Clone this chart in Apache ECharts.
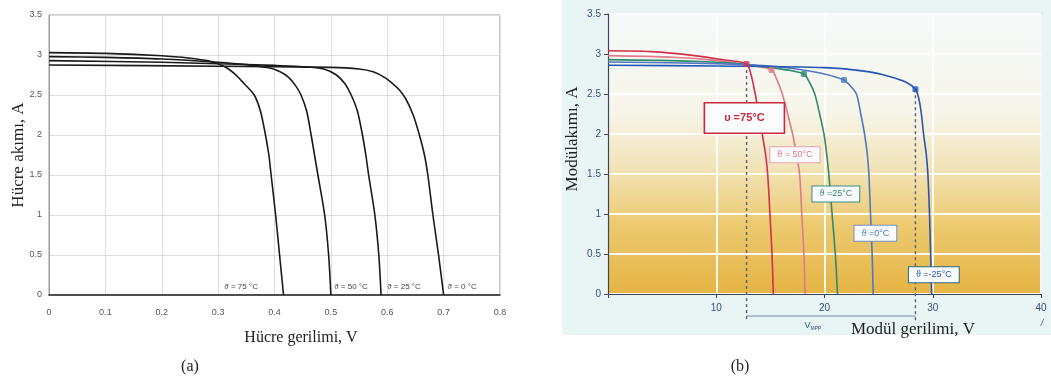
<!DOCTYPE html>
<html>
<head>
<meta charset="utf-8">
<script src="https://cdn.jsdelivr.net/npm/echarts@6/dist/echarts.min.js"></script>
<style>
  html, body { margin: 0; background: #fff; }
  #place { width: 1051px; height: 382px; }
</style>
</head>
<body>
<div id="place"></div>
<script>
// (a) cell I-V curves, voltage in V, current in A
const cellV_75 = [0, 0.1, 0.2, 0.25, 0.28, 0.3, 0.315, 0.33, 0.345, 0.364, 0.375, 0.384, 0.39, 0.394, 0.402, 0.409, 0.416];
const cellI_75 = [3.03, 3.02, 2.99, 2.96, 2.93, 2.89, 2.84, 2.76, 2.65, 2.5, 2.3, 2.0, 1.75, 1.5, 1.0, 0.5, 0];
const cellV_50 = [0, 0.1, 0.2, 0.3, 0.35, 0.39, 0.41, 0.425, 0.437, 0.447, 0.457, 0.465, 0.471, 0.477, 0.489, 0.496, 0.5];
const cellI_50 = [2.98, 2.97, 2.95, 2.91, 2.88, 2.84, 2.79, 2.72, 2.62, 2.5, 2.3, 2.0, 1.75, 1.5, 1.0, 0.5, 0];
const cellV_25 = [0, 0.2, 0.3, 0.4, 0.46, 0.49, 0.51, 0.525, 0.536, 0.547, 0.556, 0.562, 0.567, 0.578, 0.585, 0.589];
const cellI_25 = [2.93, 2.91, 2.89, 2.87, 2.85, 2.82, 2.75, 2.64, 2.5, 2.3, 2.0, 1.75, 1.5, 1.0, 0.5, 0];
const cellV_0 = [0, 0.3, 0.5, 0.55, 0.575, 0.595, 0.61, 0.622, 0.633, 0.646, 0.657, 0.666, 0.672, 0.681, 0.691, 0.7];
const cellI_0 = [2.875, 2.86, 2.845, 2.825, 2.79, 2.72, 2.64, 2.56, 2.45, 2.25, 2.0, 1.75, 1.5, 1.0, 0.5, 0];
const cellLabels = ['ϑ = 75 °C', 'ϑ = 50 °C', 'ϑ = 25 °C', 'ϑ = 0 °C'];

// (b) module I-V curves
const modV_75 = [0, 4, 8, 11, 12.8, 13.2, 13.6, 14.0, 14.25, 14.55, 14.75, 14.96, 15.15, 15.27];
const modI_75 = [3.04, 3.03, 2.98, 2.92, 2.875, 2.75, 2.5, 2.2, 2.0, 1.75, 1.5, 1.0, 0.5, 0];
const modV_50 = [0, 6, 10, 13, 15.1, 15.6, 16.1, 16.6, 17.05, 17.4, 17.7, 17.9, 18.1, 18.2];
const modI_50 = [2.98, 2.96, 2.92, 2.86, 2.8, 2.68, 2.5, 2.25, 2.0, 1.75, 1.5, 1.0, 0.5, 0];
const modV_25 = [0, 8, 12, 15, 17, 18.1, 18.6, 19.1, 19.55, 19.95, 20.2, 20.4, 20.7, 21.0, 21.2];
const modI_25 = [2.93, 2.91, 2.88, 2.83, 2.79, 2.75, 2.65, 2.5, 2.25, 2.0, 1.75, 1.5, 1.0, 0.5, 0];
const modV_0 = [0, 10, 15, 18, 20, 21.8, 22.4, 22.95, 23.35, 23.7, 23.95, 24.1, 24.25, 24.4, 24.5];
const modI_0 = [2.9, 2.88, 2.85, 2.8, 2.75, 2.675, 2.6, 2.5, 2.25, 2.0, 1.75, 1.5, 1.0, 0.5, 0];
const modV_m25 = [0, 10, 20, 24, 26, 27.5, 28.4, 28.7, 28.95, 29.15, 29.4, 29.55, 29.7, 29.8, 29.9];
const modI_m25 = [2.86, 2.85, 2.83, 2.78, 2.72, 2.65, 2.56, 2.45, 2.25, 2.0, 1.75, 1.5, 1.0, 0.5, 0];
const mppV = [12.8, 15.1, 18.1, 21.8, 28.4];
const mppI = [2.875, 2.8, 2.75, 2.675, 2.56];
const modLabels = ['υ =75°C', 'ϑ = 50°C', 'ϑ =25°C', 'ϑ =0°C', 'ϑ =-25°C'];
const modColors = ['#d42f4c', '#e07a8c', '#2f8a70', '#5078c0', '#2655b5'];

function zip(xs, ys) {
  return xs.map((x, i) => [x, ys[i]]);
}

const chart = echarts.init(document.getElementById('place'));

const cellSets = [[cellV_75, cellI_75], [cellV_50, cellI_50], [cellV_25, cellI_25], [cellV_0, cellI_0]];
const modSets = [[modV_75, modI_75], [modV_50, modI_50], [modV_25, modI_25], [modV_0, modI_0], [modV_m25, modI_m25]];

let series = [];
cellSets.forEach(s => {
  series.push({
    type: 'line', xAxisIndex: 0, yAxisIndex: 0,
    data: zip(s[0], s[1]),
    smooth: 0.3, showSymbol: false,
    lineStyle: { color: '#1a1a1a', width: 1.6 }
  });
});
modSets.forEach((s, i) => {
  series.push({
    type: 'line', xAxisIndex: 1, yAxisIndex: 1,
    data: zip(s[0], s[1]),
    smooth: 0.3, showSymbol: false,
    lineStyle: { color: modColors[i], width: 1.6 }
  });
});
series.push({
  type: 'scatter', xAxisIndex: 1, yAxisIndex: 1,
  data: zip(mppV, mppI),
  symbol: 'roundRect', symbolSize: 6, z: 5,
  itemStyle: { color: p => modColors[p.dataIndex] }
});

chart.setOption({
  animation: false,
  grid: [
    { left: 49, top: 15, width: 451, height: 280, show: true, borderColor: '#9a9a9a', borderWidth: 1, backgroundColor: '#fff' },
    {
      left: 608, top: 14, width: 433, height: 280, show: true, borderColor: '#4d6ea8', borderWidth: 1.2,
      backgroundColor: {
        type: 'linear', x: 0, y: 0, x2: 0, y2: 1,
        colorStops: [
          { offset: 0, color: '#f5fafa' },
          { offset: 0.35, color: '#f7f5ea' },
          { offset: 0.55, color: '#f2e3b8' },
          { offset: 0.75, color: '#ecca70' },
          { offset: 1, color: '#e5b444' }
        ]
      }
    }
  ],
  xAxis: [
    {
      type: 'value', gridIndex: 0, min: 0, max: 0.8, interval: 0.1,
      axisLine: { lineStyle: { color: '#222', width: 1.5 } },
      axisTick: { show: false },
      axisLabel: { color: '#555', margin: 13, fontFamily: 'Liberation Sans', fontSize: 9 },
      splitLine: { lineStyle: { color: '#dedede' } }
    },
    {
      type: 'value', gridIndex: 1, min: 0, max: 40, interval: 10,
      axisLine: { lineStyle: { color: '#3c4658', width: 1.2 } },
      axisTick: { show: true, length: 4, lineStyle: { color: '#3c4658' } },
      axisLabel: { color: '#34507e', margin: 9, fontFamily: 'Liberation Sans', fontSize: 10, formatter: v => v === 0 ? '' : v },
      splitLine: { lineStyle: { color: 'rgba(255,255,255,0.9)', width: 2 } }
    }
  ],
  yAxis: [
    {
      type: 'value', gridIndex: 0, min: 0, max: 3.5, interval: 0.5,
      axisLine: { show: true, lineStyle: { color: '#9a9a9a' } },
      axisTick: { show: false },
      axisLabel: { color: '#555', margin: 7, fontFamily: 'Liberation Sans', fontSize: 9 },
      splitLine: { lineStyle: { color: '#dedede' } }
    },
    {
      type: 'value', gridIndex: 1, min: 0, max: 3.5, interval: 0.5,
      axisLine: { show: true, lineStyle: { color: '#3c4658', width: 1.2 } },
      axisTick: { show: true, length: 4, lineStyle: { color: '#3c4658' } },
      axisLabel: { color: '#34507e', margin: 7, fontFamily: 'Liberation Sans', fontSize: 10 },
      splitLine: { lineStyle: { color: 'rgba(255,255,255,0.95)', width: 2 } }
    }
  ],
  series: series
});

function px(g, x, y) {
  return chart.convertToPixel({ gridIndex: g }, [x, y]);
}

const serif = 'Liberation Serif';
let els = [];

// light panel behind chart (b)
els.push({ type: 'rect', z: -10, shape: { x: 562, y: 0, width: 489, height: 335 }, style: { fill: '#e9f5f5' } });

// axis titles and captions
els.push({ type: 'text', x: 19, y: 155, rotation: Math.PI / 2, style: { text: 'Hücre akımı, A', font: '17px ' + serif, fill: '#222', align: 'center', verticalAlign: 'middle' } });
els.push({ type: 'text', x: 301, y: 338, style: { text: 'Hücre gerilimi, V', font: '16px ' + serif, fill: '#222', align: 'center', verticalAlign: 'middle' } });
els.push({ type: 'text', x: 190, y: 367, style: { text: '(a)', font: '16px ' + serif, fill: '#222', align: 'center', verticalAlign: 'middle' } });
els.push({ type: 'text', x: 573, y: 139, rotation: Math.PI / 2, style: { text: 'Modülakımı, A', font: '17px ' + serif, fill: '#222', align: 'center', verticalAlign: 'middle' } });
els.push({ type: 'text', x: 913, y: 330, style: { text: 'Modül gerilimi, V', font: '17px ' + serif, fill: '#222', align: 'center', verticalAlign: 'middle' } });
els.push({ type: 'text', x: 740, y: 367, style: { text: '(b)', font: '16px ' + serif, fill: '#222', align: 'center', verticalAlign: 'middle' } });

// temperature labels in (a)
const cellLabelAt = [0.311, 0.506, 0.600, 0.707];
cellLabels.forEach((t, i) => {
  const p = px(0, cellLabelAt[i], 0.1);
  els.push({ type: 'text', x: p[0], y: p[1], style: { text: t, font: '8px Liberation Sans', fill: '#444', align: 'left', verticalAlign: 'middle' } });
});

// MPP dashed lines and bracket in (b)
const mA = px(1, mppV[0], mppI[0]);
const mB = px(1, mppV[4], mppI[4]);
[mA, mB].forEach(p => {
  els.push({ type: 'line', z: 3, shape: { x1: p[0], y1: p[1], x2: p[0], y2: 322 }, style: { stroke: '#5a6070', lineWidth: 1.4, lineDash: [3, 3] } });
});
els.push({ type: 'line', z: 3, shape: { x1: mA[0], y1: 316, x2: mB[0], y2: 316 }, style: { stroke: '#7a8898', lineWidth: 1 } });
els.push({
  type: 'text', x: 813, y: 326,
  style: {
    text: '{a|V}{b|MPP}', align: 'center', verticalAlign: 'middle',
    rich: { a: { fontSize: 9, fill: '#34507e', fontFamily: 'Liberation Sans' }, b: { fontSize: 5, fill: '#34507e', fontFamily: 'Liberation Sans', padding: [5, 0, 0, 0] } }
  }
});
els.push({ type: 'text', x: 1042, y: 323, style: { text: '/', font: 'italic 9px Liberation Sans', fill: '#34507e', align: 'center', verticalAlign: 'middle' } });

// temperature boxes in (b)
const boxAt = [[12.6, 2.2], [17.27, 1.74], [21.05, 1.25], [24.7, 0.76], [30.1, 0.24]];
const boxBorder = ['#c8283c', '#e8a0b0', '#3a8a88', '#7090c8', '#2a6a80'];
boxAt.forEach((b, i) => {
  const p = px(1, b[0], b[1]);
  const big = i === 0;
  els.push({
    type: 'text', x: p[0], y: p[1], z: 6,
    style: {
      text: modLabels[i],
      font: (big ? 'bold 11px ' : '9px ') + 'Liberation Sans',
      fill: big ? '#c8283c' : modColors[i],
      align: 'center', verticalAlign: 'middle',
      backgroundColor: '#f9fbfd',
      borderColor: boxBorder[i], borderWidth: big ? 1.6 : 1,
      padding: big ? [9, 19] : [3, 7]
    }
  });
});

chart.setOption({ graphic: { elements: els } });
</script>
</body>
</html>
